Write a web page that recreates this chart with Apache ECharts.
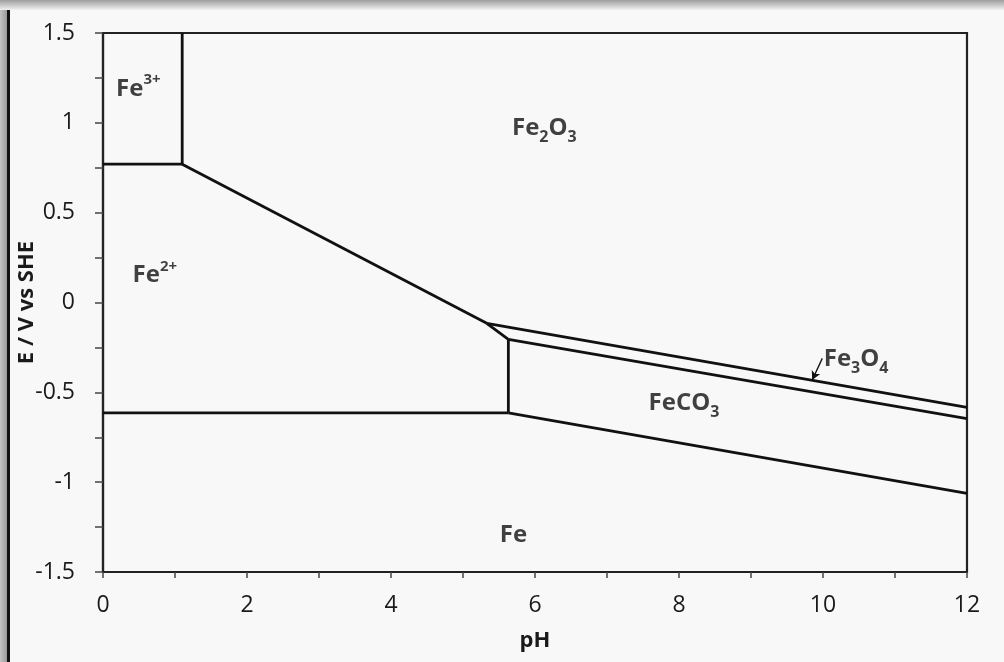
<!DOCTYPE html>
<html>
<head>
<meta charset="utf-8">
<script src="https://cdn.jsdelivr.net/npm/echarts@6/dist/echarts.min.js"></script>
<style>
  html, body { margin: 0; padding: 0; background: #f8f8f8; }
  #chart { width: 1004px; height: 662px; }
</style>
</head>
<body>
<div id="chart"></div>
<script>
// Pourbaix (E–pH) diagram for iron in CO2-containing water.
// Each boundary is a list of [pH, E (V vs SHE)] points.
const fe3_fe2     = [[0, 0.77], [1.1, 0.77]];
const fe3_fe2o3   = [[1.1, 0.77], [1.1, 1.5]];
const fe2_fe2o3   = [[1.1, 0.77], [5.33, -0.116]];
const fe2_fe3o4   = [[5.33, -0.116], [5.63, -0.205]];
const fe2o3_fe3o4 = [[5.33, -0.116], [12, -0.584]];
const fe3o4_feco3 = [[5.63, -0.205], [12, -0.647]];
const fe2_feco3   = [[5.63, -0.205], [5.63, -0.614]];
const fe2_fe      = [[0, -0.614], [5.63, -0.614]];
const feco3_fe    = [[5.63, -0.614], [12, -1.063]];

const boundaries = [fe3_fe2, fe3_fe2o3, fe2_fe2o3, fe2_fe3o4, fe2o3_fe3o4,
                    fe3o4_feco3, fe2_feco3, fe2_fe, feco3_fe];

// Stability-field labels: [pH, E, rich text]
const regionLabels = [
  [0.49, 1.19,  '{m|Fe}{sup|3+}'],
  [6.13, 0.97,  '{m|Fe}{sub|2}{m|O}{sub|3}'],
  [0.72, 0.15,  '{m|Fe}{sup|2+}'],
  [8.07, -0.56, '{m|FeCO}{sub|3}'],
  [5.70, -1.295,'{m|Fe}'],
  [10.46, -0.315,'{m|Fe}{sub|3}{m|O}{sub|4}']
];
// Pointer from the Fe3O4 label to its thin stability band
const fe3o4Pointer = [[9.99, -0.311], [9.85, -0.432]];

const xTicks = [0, 2, 4, 6, 8, 10, 12];
const yTicks = [-1.5, -1, -0.5, 0, 0.5, 1, 1.5];

const FONT = 'Open Sans';
const chart = echarts.init(document.getElementById('chart'), null, { renderer: 'canvas' });

const series = boundaries.map(pts => ({
  type: 'line',
  data: pts,
  symbol: 'none',
  silent: true,
  lineStyle: { color: '#111', width: 2.8 },
  z: 3
}));

series.push({
  type: 'scatter',
  data: regionLabels.map(r => [r[0], r[1], r[2]]),
  symbolSize: 0,
  silent: true,
  label: {
    show: true,
    position: 'inside',
    formatter: p => p.data[2],
    rich: {
      m:   { fontFamily: FONT, fontWeight: 'bold', fontSize: 24, color: '#111', lineHeight: 28, verticalAlign: 'middle' },
      sub: { fontFamily: FONT, fontWeight: 'bold', fontSize: 16, color: '#111', lineHeight: 16, verticalAlign: 'bottom', padding: [0, 0, -3, 0] },
      sup: { fontFamily: FONT, fontWeight: 'bold', fontSize: 15, color: '#111', lineHeight: 16, verticalAlign: 'top', padding: [-2, 0, 0, 0] }
    }
  },
  z: 5
});

series.push({
  type: 'line',
  data: [],
  markLine: {
    silent: true,
    symbol: ['none', 'arrow'],
    symbolSize: [7, 9],
    label: { show: false },
    lineStyle: { color: '#111', width: 1.3, type: 'solid' },
    data: [[{ coord: fe3o4Pointer[0] }, { coord: fe3o4Pointer[1] }]]
  }
});

chart.setOption({
  backgroundColor: '#f8f8f8',
  animation: false,
  grid: {
    left: 103, right: 37, top: 33, bottom: 90,
    containLabel: false, outerBoundsMode: 'none',
    show: true, borderColor: '#222', borderWidth: 2.2, backgroundColor: 'transparent'
  },
  xAxis: {
    type: 'value', min: 0, max: 12, interval: 2,
    name: 'pH', nameLocation: 'middle', nameGap: 58, nameMoveOverlap: false,
    nameTextStyle: { fontFamily: FONT, fontWeight: 'bold', fontSize: 22, color: '#1a1a1a' },
    axisLine: { show: true, onZero: false, lineStyle: { color: '#222', width: 2.2 } },
    axisTick: { show: true, inside: false, length: 6, lineStyle: { color: '#444', width: 1.5 } },
    minorTick: { show: true, splitNumber: 2, length: 6, lineStyle: { color: '#444', width: 1.5 } },
    axisLabel: {
      margin: 22, fontFamily: FONT, fontSize: 23, color: '#1a1a1a',
      customValues: xTicks, formatter: v => String(v)
    },
    splitLine: { show: false }
  },
  yAxis: {
    type: 'value', min: -1.5, max: 1.5, interval: 0.5,
    name: 'E / V vs SHE', nameLocation: 'middle', nameGap: 65, nameRotate: 90, nameMoveOverlap: false,
    nameTextStyle: { fontFamily: FONT, fontWeight: 'bold', fontSize: 22, color: '#1a1a1a' },
    axisLine: { show: true, onZero: false, lineStyle: { color: '#222', width: 2.2 } },
    axisTick: { show: true, inside: false, length: 8, lineStyle: { color: '#444', width: 1.5 } },
    minorTick: { show: true, splitNumber: 2, length: 8, lineStyle: { color: '#444', width: 1.5 } },
    axisLabel: {
      margin: 28, fontFamily: FONT, fontSize: 23, color: '#1a1a1a',
      customValues: yTicks, formatter: v => String(v)
    },
    splitLine: { show: false }
  },
  graphic: [
    {
      type: 'rect', left: 0, top: 0, z: 100, silent: true,
      shape: { width: 1004, height: 10 },
      style: { fill: new echarts.graphic.LinearGradient(0, 0, 0, 1, [
        { offset: 0, color: '#9e9e9e' }, { offset: 0.6, color: '#cfcfcf' }, { offset: 1, color: '#f2f2f2' }
      ]) }
    },
    {
      type: 'rect', left: 0, top: 10, z: 100, silent: true,
      shape: { width: 7, height: 652 },
      style: { fill: new echarts.graphic.LinearGradient(0, 0, 1, 0, [
        { offset: 0, color: '#c4c4c4' }, { offset: 1, color: '#9a9a9a' }
      ]) }
    },
    {
      type: 'rect', left: 7, top: 10, z: 101, silent: true,
      shape: { width: 3, height: 652 },
      style: { fill: '#111' }
    }
  ],
  series: series
});
</script>
</body>
</html>
